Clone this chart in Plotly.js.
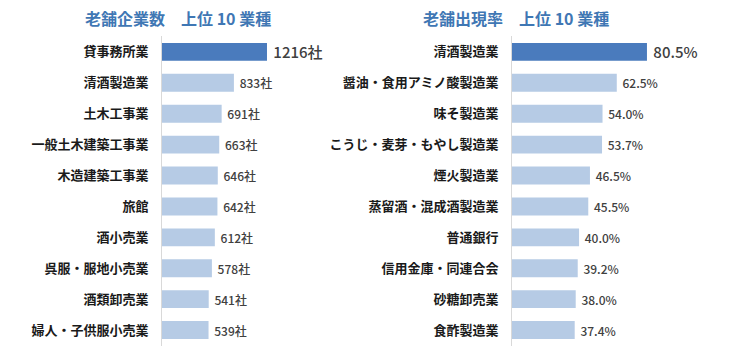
<!DOCTYPE html>
<html><head><meta charset="utf-8">
<script src="https://cdn.plot.ly/plotly-3.0.1.min.js"></script>
<style>html,body{margin:0;padding:0;background:#fff;}#chart{width:750px;height:354px;}</style>
</head><body><div id="chart"></div>
<script>
const leftTitle = "老舗企業数　上位 10 業種";
const rightTitle = "老舗出現率　上位 10 業種";
const leftCategories = ["貸事務所業","清酒製造業","土木工事業","一般土木建築工事業","木造建築工事業","旅館","酒小売業","呉服・服地小売業","酒類卸売業","婦人・子供服小売業"];
const leftValues = [1216,833,691,663,646,642,612,578,541,539];
const leftUnit = "社";
const rightCategories = ["清酒製造業","醤油・食用アミノ酸製造業","味そ製造業","こうじ・麦芽・もやし製造業","煙火製造業","蒸留酒・混成酒製造業","普通銀行","信用金庫・同連合会","砂糖卸売業","食酢製造業"];
const rightValues = [80.5,62.5,54.0,53.7,46.5,45.5,40.0,39.2,38.0,37.4];
const rightUnit = "%";

const dark = "#4a7bbd", light = "#b6cbe5";
const font = "'Noto Sans CJK JP', 'Noto Sans', sans-serif";
function colors(n){return Array.from({length:n},(_,i)=>i===0?dark:light);}
function sizes(n){return Array.from({length:n},(_,i)=>i===0?15:12);}

const traces = [
 {type:"bar", orientation:"h", x:leftValues, y:leftCategories, xaxis:"x", yaxis:"y",
  marker:{color:colors(leftValues.length)},
  text:leftValues.map(v=>" "+v+leftUnit), textposition:"outside", cliponaxis:false, constraintext:"none",
  textfont:{family:font, size:sizes(leftValues.length), color:"#404040", weight:500},
  hoverinfo:"none"},
 {type:"bar", orientation:"h", x:rightValues, y:rightCategories, xaxis:"x2", yaxis:"y2",
  marker:{color:colors(rightValues.length)},
  text:rightValues.map(v=>" "+v.toFixed(1)+rightUnit), textposition:"outside", cliponaxis:false, constraintext:"none",
  textfont:{family:font, size:sizes(rightValues.length), color:"#404040", weight:500},
  hoverinfo:"none"}
];

const yDom = [0.024, 0.897];
const layout = {
 width:750, height:354, margin:{l:0,r:0,t:0,b:0},
 paper_bgcolor:"#fff", plot_bgcolor:"#fff", showlegend:false,
 bargap:0.42,
 font:{family:font, color:"#222"},
 xaxis:{domain:[162/750, 375/750], range:[0, 2467], visible:false, fixedrange:true},
 xaxis2:{domain:[512/750, 740/750], range:[0, 136], visible:false, fixedrange:true},
 yaxis:{domain:yDom, anchor:"x", autorange:"reversed", showline:true, linecolor:"#d9d9d9", linewidth:1,
   showgrid:false, zeroline:false, ticks:"", ticklabelstandoff:10,
   tickfont:{family:font, size:13, color:"#1a1a1a", weight:"bold"}},
 yaxis2:{domain:yDom, anchor:"x2", autorange:"reversed", showline:true, linecolor:"#d9d9d9", linewidth:1,
   showgrid:false, zeroline:false, ticks:"", ticklabelstandoff:10,
   tickfont:{family:font, size:13, color:"#1a1a1a", weight:"bold"}},
 annotations:[
  {text:leftTitle, xref:"paper", yref:"paper", x:178/750, y:1-18/354, xanchor:"center", yanchor:"middle",
   showarrow:false, font:{family:font, size:16, color:"#3f77b4", weight:"bold"}},
  {text:rightTitle, xref:"paper", yref:"paper", x:516/750, y:1-18/354, xanchor:"center", yanchor:"middle",
   showarrow:false, font:{family:font, size:16, color:"#3f77b4", weight:"bold"}}
 ]
};
Plotly.newPlot("chart", traces, layout, {staticPlot:true, displayModeBar:false});
</script></body></html>
